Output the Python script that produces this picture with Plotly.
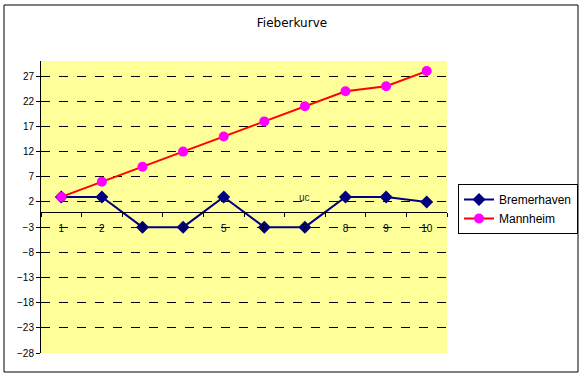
import plotly.graph_objects as go

categories = ["1", "2", "3", "4", "5", "6", "7", "8", "9", "10"]
bremerhaven = [3, 3, -3, -3, 3, -3, -3, 3, 3, 2]
mannheim = [3, 6, 9, 12, 15, 18, 21, 24, 25, 28]
y_ticks = [-28, -23, -18, -13, -8, -3, 2, 7, 12, 17, 22, 27]

W, H = 584, 377
L, R, T, B = 41, 447, 61, 353  # plot area in px

def px_x(px):
    return (px - L) / (R - L)

def px_y(py):
    return (B - py) / (B - T)

fig = go.Figure()
fig.add_trace(go.Scatter(
    x=categories, y=bremerhaven, name="Bremerhaven", mode="lines+markers",
    line=dict(color="#000080", width=2),
    marker=dict(symbol="diamond", size=10, color="#000080"),
))
fig.add_trace(go.Scatter(
    x=categories, y=mannheim, name="Mannheim", mode="lines+markers",
    line=dict(color="#FF0000", width=2),
    marker=dict(symbol="circle", size=10, color="#FF00FF"),
))

font_family = "Liberation Sans, Arial, sans-serif"

fig.update_layout(
    width=W, height=H,
    margin=dict(l=L, r=W - R, t=T, b=H - B, pad=0, autoexpand=False),
    paper_bgcolor="white",
    plot_bgcolor="#FFFF99",
    font=dict(family=font_family, size=10, color="black"),
    title=dict(text="Fieberkurve", x=292 / W, xanchor="center", y=1 - 23 / H, yanchor="middle",
               font=dict(size=12, family="DejaVu Sans, sans-serif", color="black")),
    showlegend=True,
    legend=dict(x=458 / W, y=1 - 184 / H, xref="container", yref="container",
                xanchor="left", yanchor="top",
                bordercolor="black", borderwidth=1, bgcolor="white",
                font=dict(size=12, family=font_family, color="black"),
                itemwidth=30),
    xaxis=dict(
        type="category", range=[-0.5, 9.5],
        anchor="free", position=px_y(212),
        showline=True, linecolor="black", linewidth=1,
        ticks="outside", ticklen=4, tickcolor="black", tickson="boundaries",
        showgrid=False, zeroline=False,
        tickfont=dict(size=10, color="black"),
        ticklabelstandoff=7,
    ),
    yaxis=dict(
        range=[-28, 30],
        tickmode="array", tickvals=y_ticks,
        showline=True, linecolor="black", linewidth=1,
        ticks="outside", ticklen=4, tickcolor="black",
        showgrid=True, gridcolor="black", griddash="dash", gridwidth=1,
        zeroline=False,
        tickfont=dict(size=10, color="black"),
    ),
    annotations=[dict(text="uc", x=px_x(312), y=px_y(197), xref="paper", yref="paper",
                      showarrow=False, font=dict(size=10, color="#333333"))],
    shapes=[dict(type="rect", xref="paper", yref="paper",
                 x0=px_x(4), x1=px_x(578), y0=px_y(372), y1=px_y(5),
                 line=dict(color="black", width=1), layer="below")],
)

fig.write_html("out.html", config=dict(displayModeBar=False),
               post_script="document.body.style.margin='0';document.body.style.padding='0';")
